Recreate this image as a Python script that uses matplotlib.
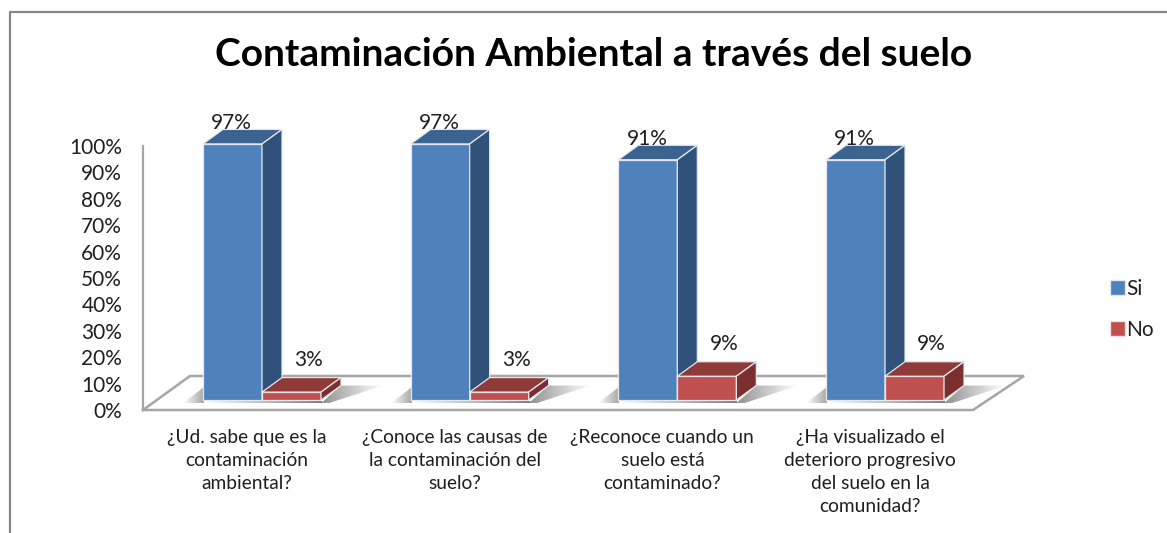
import numpy as np
import matplotlib
matplotlib.use("Agg")
import matplotlib.pyplot as plt
from matplotlib.patches import Polygon, Patch
from matplotlib.lines import Line2D

title = "Contaminación Ambiental a través del suelo"
categories = ["¿Ud. sabe que es la\ncontaminación\nambiental?",
              "¿Conoce las causas de\nla contaminación del\nsuelo?",
              "¿Reconoce cuando un\nsuelo está\ncontaminado?",
              "¿Ha visualizado el\ndeterioro progresivo\ndel suelo en la\ncomunidad?"]
si = [97, 97, 91, 91]
no = [3, 3, 9, 9]
y_ticks = list(range(0, 101, 10))

W, H = 1167, 533
FONT = "Lato"
plt.rcParams["font.family"] = [FONT, "DejaVu Sans"]
fig = plt.figure(figsize=(W / 100, H / 100), dpi=100, facecolor="white")
GRAY = "#a6a6a6"
TXT = "#1f1f1f"

# frame of the chart area
fig.add_artist(Line2D([9.5 / W, 9.5 / W, 1], [0, 1 - 11.5 / H, 1 - 11.5 / H], color="#868686", lw=1.6))

# main axes: px x 143..1024, px y 100..410
L, R, T, B = 143, 1024, 100, 410
ax = fig.add_axes([L / W, 1 - B / H, (R - L) / W, (B - T) / H])
ax.patch.set_alpha(0)
SX, SY = 207.67, 2.64      # px per category, px per percent
X0, Y0 = 247, 400          # px of category 0 and of value 0
xl = ((L - X0) / SX, (R - X0) / SX)
yl = ((Y0 - B) / SY, (Y0 - T) / SY)
dx, dy = 20 / SX, 14.5 / SY
bw = 59 / SX
off = 15 / SX

# floor
floor_x = [L, 190, R, 973, L]
floor_y = [410, 376, 376, 410, 410]
ax.plot([(p - X0) / SX for p in floor_x], [(Y0 - p) / SY for p in floor_y],
        color=GRAY, lw=1.8, clip_on=False, zorder=1, solid_joinstyle="miter")

def shadow(verts, rev=False, a=0.6):
    """Horizontal grey fade clipped to a floor polygon."""
    xs = [p[0] for p in verts]
    ys = [p[1] for p in verts]
    r = np.linspace(0, 1, 64)
    if rev:
        r = r[::-1]
    img = np.zeros((1, 64, 4))
    img[..., :3] = 0.42
    img[0, :, 3] = r * a
    im = ax.imshow(img, extent=(min(xs), max(xs), min(ys), max(ys)), aspect="auto",
                   zorder=2, interpolation="bilinear")
    im.set_clip_path(Polygon(verts, transform=ax.transData))

def bar3d(x, w, v, front, top, side, z):
    e = dict(edgecolor="#e4e8ee", lw=0.9, zorder=z, joinstyle="round")
    ax.add_patch(Polygon([(x, 0), (x + w, 0), (x + w, v), (x, v)], facecolor=front, **e))
    ax.add_patch(Polygon([(x, v), (x + w, v), (x + w + dx, v + dy), (x + dx, v + dy)], facecolor=top, **e))
    ax.add_patch(Polygon([(x + w, 0), (x + w + dx, dy), (x + w + dx, v + dy), (x + w, v)], facecolor=side, **e))

for i, (a, b) in enumerate(zip(si, no)):
    xb = i - bw + off
    xr = i + off
    xe = xr + bw
    # soft shadows on the floor
    shadow([(xb - 20 / SX, -1.2), (xb + 1 / SX, -1.2), (xb + 1 / SX, 13 / SY)])
    shadow([(xb, -1.2), (xe + 1 / SX, -1.2), (xe + 1 / SX, 0.3), (xb, 0.3)], a=0.9)
    shadow([(xe, -1.2), (xe + dx, dy), (xe + dx + 42 / SX, dy),
            (xe + 8 / SX, -1.2)], rev=True, a=0.75)
    bar3d(xb, bw, a, "#4f81bd", "#3c628f", "#30527a", 5 + i)
    bar3d(xr, bw, b, "#c0504d", "#8f3a38", "#7c302e", 5 + i)
    ax.annotate(f"{a}%", (xb + bw / 2, a), xytext=(-1, 15), textcoords="offset pixels",
                ha="center", va="baseline", fontsize=15, color=TXT, zorder=20, annotation_clip=False)
    ax.annotate(f"{b}%", (xr + bw / 2, b), xytext=(17, 26), textcoords="offset pixels",
                ha="center", va="baseline", fontsize=15, color=TXT, zorder=20, annotation_clip=False)

ax.set_xlim(xl)
ax.set_ylim(yl)
ax.set_yticks([])
ax.set_xticks(range(len(categories)))
ax.set_xticklabels(categories, fontsize=13.8, color=TXT, linespacing=1.42, va="top")
ax.tick_params(axis="x", length=0, pad=14)
for s in ax.spines.values():
    s.set_visible(False)

# value axis: px y 146..410
ay = fig.add_axes([L / W, 1 - 410 / H, 0.001, (410 - 146) / H])
ay.patch.set_alpha(0)
ay.set_ylim(0, 100)
ay.set_xticks([])
ay.set_yticks(y_ticks)
ay.set_yticklabels([f"{t}%" for t in y_ticks], fontsize=15, color=TXT)
ay.tick_params(axis="y", length=0, pad=15)
for k in ("top", "right", "bottom"):
    ay.spines[k].set_visible(False)
ay.spines["left"].set_color(GRAY)
ay.spines["left"].set_linewidth(1.6)

# legend
handles = [Patch(facecolor="#4f81bd", edgecolor="#dfe6f0", label="Si"),
           Patch(facecolor="#c0504d", edgecolor="#f0dfdf", label="No")]
fig.legend(handles=handles, loc="center left", bbox_to_anchor=(1106 / W, 1 - 309.5 / H),
           frameon=False, fontsize=15, labelcolor=TXT, handlelength=0.72, handleheight=0.72,
           handletextpad=0.06, labelspacing=1.0, borderpad=0.2, borderaxespad=0)

fig.text(594 / W, 1 - 54 / H, title, ha="center", va="center", fontsize=28, fontweight="bold", color="black")
fig.savefig("out.png", dpi=100)
